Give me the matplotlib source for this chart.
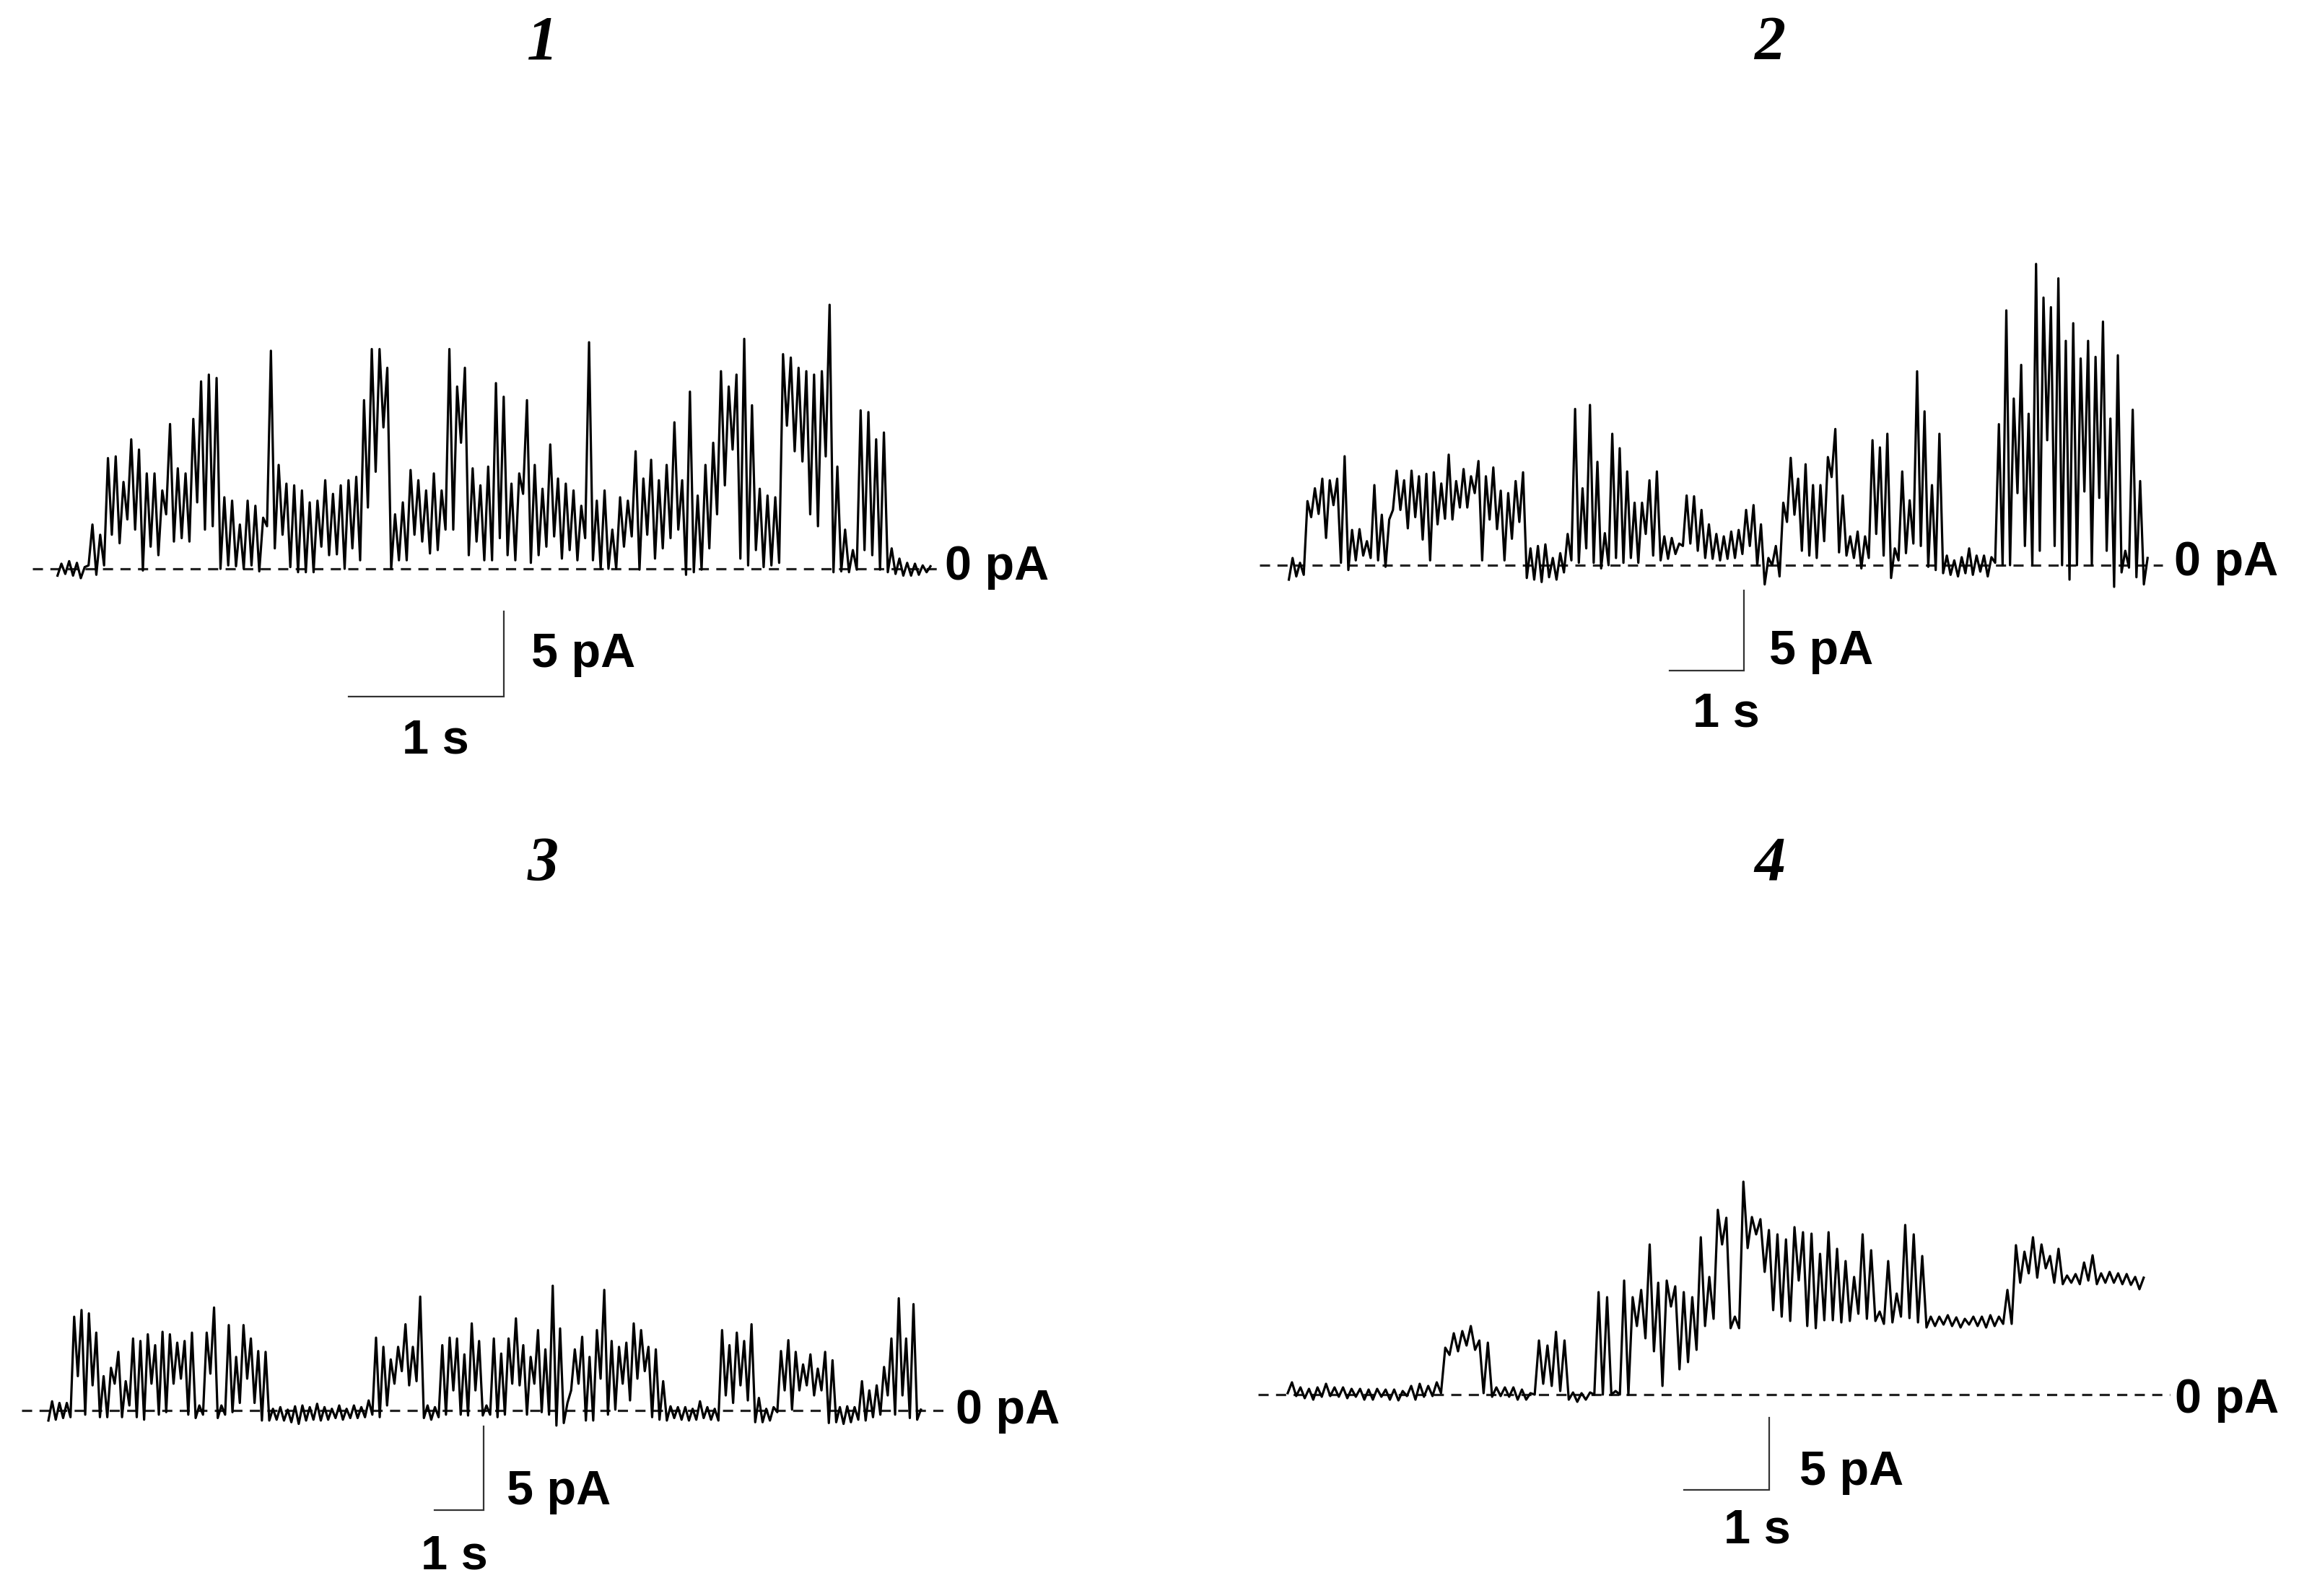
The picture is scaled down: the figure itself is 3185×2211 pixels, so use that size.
import numpy as np
import matplotlib.pyplot as plt

W, H = 3185, 2211

t1_step = 0.05
trace1_hi = [0.3, 0.45, 0.35, 0.1, 2.6, 2.0, 6.5, 6.6, 5.1, 7.6,
             7.0, 5.6, 5.6, 4.6, 8.5, 5.9, 5.6, 8.8, 11.0, 11.4,
             11.2, 4.2, 4.0, 2.6, 4.0, 3.7, 3.0, 12.8, 6.1, 5.0,
             4.9, 4.6, 3.9, 4.0, 5.2, 4.4, 4.9, 5.2, 5.4, 9.9,
             12.9, 12.9, 11.8, 3.2, 3.9, 5.8, 5.2, 4.6, 5.6, 4.6,
             12.9, 10.7, 11.8, 5.9, 4.9, 6.0, 10.9, 10.1, 5.0, 5.6,
             9.9, 6.1, 4.7, 7.3, 5.3, 5.0, 4.6, 3.7, 13.3, 4.0,
             4.6, 2.3, 4.2, 4.0, 6.9, 5.3, 6.4, 5.2, 6.1, 8.6,
             5.2, 10.4, 4.3, 6.1, 7.4, 11.6, 10.7, 11.4, 13.5, 9.6,
             4.7, 4.3, 4.2, 12.6, 12.4, 11.8, 11.6, 11.4, 11.6, 15.5,
             6.0, 2.3, 1.1, 9.3, 9.2, 7.6, 8.0, 1.2, 0.6, 0.35,
             0.3, 0.2, 0.15]
trace1_lo = [-0.4, -0.3, -0.4, -0.55, 0.2, -0.35, 0.2, 2.0, 1.5, 2.9,
             2.3, -0.1, 1.3, 0.8, 3.2, 1.6, 1.8, 1.6, 3.9, 2.3,
             2.5, 0.0, 0.2, 0.15, 0.0, 0.2, -0.15, 2.5, 1.2, 2.0,
             0.1, -0.2, -0.2, -0.2, 1.3, 0.8, 0.85, 0.0, 1.2, 0.5,
             3.6, 5.7, 8.3, 0.0, 0.5, 0.5, 2.0, 1.6, 0.9, 1.1,
             2.3, 2.3, 7.4, 0.8, 1.6, 0.5, 0.5, 1.8, 0.8, 0.5,
             4.4, 0.35, 0.8, 1.3, 1.9, 0.6, 1.1, 0.5, 1.8, 0.5,
             0.0, 0.0, 0.0, 1.3, 1.9, -0.05, 2.0, 0.6, 1.2, 1.8,
             2.3, -0.35, -0.2, -0.05, 1.2, 3.2, 4.9, 7.0, 0.6, 0.2,
             1.1, 0.1, 0.2, 0.35, 8.4, 6.9, 6.3, 3.2, 2.5, 6.6,
             -0.2, -0.15, -0.2, -0.05, 1.1, 0.8, -0.05, -0.2, -0.3, -0.4,
             -0.4, -0.35, -0.2]

t2_step = 0.1
trace2_hi = [0.45, 0.15, 4.0, 4.8, 5.4, 5.3, 5.4, 6.8, 2.2, 2.25,
             1.5, 5.0, 3.15, 2.85, 5.9, 5.3, 5.9, 5.55, 5.7, 5.8,
             5.1, 6.9, 5.25, 6.0, 5.55, 6.5, 5.55, 6.1, 4.65, 4.5,
             5.25, 5.8, 1.05, 1.2, 1.3, 0.45, 0.75, 1.95, 9.75, 4.8,
             10.0, 6.45, 2.0, 8.2, 7.3, 5.85, 3.9, 3.9, 5.3, 5.85,
             1.8, 1.7, 1.35, 4.35, 4.3, 3.45, 2.55, 1.95, 1.8, 2.1,
             2.2, 3.45, 3.75, 2.55, 0.45, 1.2, 3.9, 6.7, 5.4, 6.3,
             5.0, 5.0, 6.75, 8.5, 4.35, 1.8, 2.1, 1.8, 7.8, 7.35,
             8.2, 1.05, 5.85, 4.05, 12.1, 9.6, 5.0, 8.2, 0.6, 0.3,
             0.5, 1.05, 0.6, 0.6, 0.5, 8.8, 15.9, 10.4, 12.5, 9.45,
             18.8, 16.7, 16.1, 17.9, 14.0, 15.1, 12.9, 14.0, 13.0, 15.2,
             9.15, 13.1, 0.9, 9.7, 5.25, 0.45]
trace2_lo = [-0.9, -0.7, -0.6, 3.0, 3.2, 1.7, 3.75, 0.15, -0.3, 0.3,
             0.6, 0.45, 0.3, -0.1, 3.45, 3.45, 2.3, 3.0, 1.6, 0.3,
             2.55, 2.9, 2.85, 3.6, 3.6, 4.5, 0.3, 2.85, 2.25, 0.3,
             1.65, 2.7, -0.8, -0.9, -1.05, -0.75, -0.9, -0.45, 0.3, 0.15,
             1.05, 0.15, -0.2, 0.0, 0.45, 0.15, 0.45, 0.15, 1.95, 0.6,
             0.3, 0.4, 0.7, 1.2, 1.35, 0.9, 0.45, 0.4, 0.3, 0.4,
             0.45, 0.7, 1.2, 0.0, -1.2, 0.0, -0.7, 2.7, 3.15, 0.9,
             0.6, 0.45, 1.5, 5.5, 0.8, 0.6, 0.45, -0.2, 0.45, 1.95,
             0.6, -0.8, 0.3, 0.75, 1.35, 1.2, -0.1, -0.3, -0.5, -0.6,
             -0.7, -0.5, -0.6, -0.4, -0.7, 0.15, 0.0, 0.0, 4.5, 1.2,
             0.0, 0.9, 7.8, 1.2, 0.0, -0.9, 0.0, 4.6, 0.0, 4.2,
             0.9, -1.35, -0.45, -0.15, -0.75, -1.2]

t3_step = 0.15
trace3_hi = [0.55, 0.45, 0.45, 5.6, 6.0, 5.8, 4.65, 2.05, 2.55, 3.5,
             1.75, 4.3, 4.15, 4.55, 3.9, 4.7, 4.55, 4.05, 4.15, 4.65,
             0.3, 4.65, 6.15, 0.3, 5.1, 3.2, 5.1, 4.3, 3.55, 3.5,
             0.1, 0.2, 0.05, 0.25, 0.3, 0.2, 0.4, 0.2, 0.1, 0.3,
             0.1, 0.3, 0.2, 0.6, 4.35, 3.8, 3.05, 3.8, 5.15, 3.8,
             6.8, 0.3, 0.2, 3.9, 4.35, 4.3, 3.35, 5.2, 4.15, 0.3,
             4.3, 3.4, 4.3, 5.5, 3.9, 3.2, 4.8, 3.65, 7.45, 4.9,
             0.45, 3.65, 4.4, 3.2, 4.8, 7.2, 4.15, 3.8, 4.05, 5.2,
             4.8, 3.8, 3.65, 1.75, 0.25, 0.2, 0.2, 0.1, 0.55, 0.2,
             0.1, 4.8, 3.9, 4.65, 4.15, 5.15, 0.75, 0.1, 0.2, 3.55,
             4.2, 3.5, 2.75, 3.35, 2.5, 3.5, 3.0, 0.2, 0.25, 0.2,
             1.75, 1.2, 1.5, 2.6, 4.3, 6.7, 4.3, 6.35, 0.05]
trace3_lo = [-0.6, -0.55, -0.45, -0.4, 2.05, -0.25, 1.5, -0.4, -0.4, 1.6,
             -0.4, 0.3, -0.4, -0.55, 1.6, -0.25, -0.1, 1.6, 1.9, -0.25,
             -0.45, -0.25, 2.2, -0.45, -0.25, -0.1, 0.45, 1.9, 0.45, -0.6,
             -0.6, -0.55, -0.6, -0.7, -0.8, -0.6, -0.55, -0.6, -0.55, -0.45,
             -0.55, -0.45, -0.45, -0.4, -0.25, -0.4, 0.3, 1.6, 2.35, 1.5,
             1.75, -0.45, -0.55, -0.4, -0.25, 1.2, -0.25, -0.3, 1.2, -0.3,
             -0.25, -0.4, -0.25, 1.6, 1.5, -0.25, 1.6, -0.1, -0.25, -0.9,
             -0.75, 1.2, 1.6, -0.6, -0.6, 1.9, -0.25, 0.05, 1.6, 0.6,
             1.9, 2.35, -0.4, -0.55, -0.6, -0.45, -0.55, -0.6, -0.55, -0.45,
             -0.55, -0.6, 0.9, 0.45, 1.5, 0.6, -0.7, -0.7, -0.6, -0.1,
             1.2, 0.05, 1.2, 1.5, 0.9, 1.2, -0.75, -0.7, -0.8, -0.7,
             -0.55, -0.6, -0.4, -0.25, 0.9, -0.25, 0.9, -0.45, -0.55]

t4_step = 0.1
trace4_hi = [0.85, 0.5, 0.4, 0.5, 0.75, 0.5, 0.5, 0.4, 0.4, 0.35,
             0.4, 0.35, 0.35, 0.25, 0.6, 0.75, 0.6, 0.85, 3.25, 4.25,
             4.4, 4.75, 3.75, 3.6, 0.5, 0.5, 0.5, 0.35, 0.1, 3.75,
             3.4, 4.35, 3.75, 0.15, 0.1, 0.15, 7.1, 6.75, 0.25, 7.9,
             6.75, 7.25, 10.4, 7.75, 7.9, 7.5, 7.1, 6.75, 10.9, 8.15,
             12.8, 12.25, 5.4, 14.75, 12.3, 12.15, 11.4, 11.1, 10.75, 11.6,
             11.25, 11.15, 9.75, 11.25, 10.1, 9.25, 8.15, 11.1, 10.0, 5.75,
             9.25, 7.0, 11.75, 11.1, 9.6, 5.4, 5.4, 5.5, 5.35, 5.25,
             5.4, 5.4, 5.5, 5.4, 7.25, 10.35, 9.9, 10.9, 10.4, 9.6,
             10.1, 8.25, 8.35, 9.15, 9.65, 8.4, 8.5, 8.4, 8.35, 8.15,
             8.1]
trace4_lo = [0.1, -0.1, -0.25, -0.35, -0.15, -0.1, -0.15, -0.25, -0.15, -0.35,
             -0.35, -0.15, -0.35, -0.4, -0.1, -0.35, -0.15, -0.1, 0.1, 2.75,
             3.0, 3.4, 3.1, 0.1, -0.15, -0.1, -0.15, -0.35, -0.35, 0.0,
             0.75, 0.6, 0.25, -0.35, -0.5, -0.35, 0.0, 0.0, 0.0, 0.0,
             0.0, 4.75, 3.9, 3.0, 0.6, 6.1, 1.75, 2.25, 3.1, 4.75,
             5.25, 10.4, 4.6, 4.6, 10.15, 11.1, 8.5, 5.85, 5.4, 5.1,
             7.9, 4.75, 4.6, 5.15, 5.15, 5.0, 5.1, 5.6, 5.25, 5.1,
             4.9, 5.0, 5.4, 5.3, 5.0, 4.65, 4.75, 4.85, 4.75, 4.65,
             4.85, 4.75, 4.65, 4.75, 4.9, 4.9, 7.75, 8.4, 8.1, 8.75,
             7.75, 7.65, 7.75, 7.65, 7.9, 7.65, 7.75, 7.75, 7.65, 7.6,
             7.3]

titles = ["1", "2", "3", "4"]

# where each record sits on the page: origin (px), px per second, px per pA
panels = [
    dict(hi=trace1_hi, lo=trace1_lo, step=t1_step, x0=77, yb=788, pps=215, ppa=23.6,
         dash=(-0.15, 5.69), bar=(2.89, -7.5), lab5=(3.065, -5.05), lab1=(2.45, -10.1),
         lab0=(5.73, 0.1), title=(752, 61)),
    dict(hi=trace2_hi, lo=trace2_lo, step=t2_step, x0=1783, yb=783, pps=103, ppa=22.2,
         dash=(-0.37, 11.78), bar=(6.146, -6.58), lab5=(6.49, -5.4), lab1=(5.91, -9.3),
         lab0=(11.93, 0.14), title=(2452, 61)),
    dict(hi=trace3_hi, lo=trace3_lo, step=t3_step, x0=64.5, yb=1954, pps=68, ppa=23.2,
         dash=(-0.51, 18.31), bar=(8.904, -5.95), lab5=(9.375, -4.87), lab1=(8.31, -8.75),
         lab0=(18.52, -0.05), title=(752, 1198)),
    dict(hi=trace4_hi, lo=trace4_lo, step=t4_step, x0=1781, yb=1932, pps=118, ppa=20,
         dash=(-0.32, 10.38), bar=(5.678, -6.6), lab5=(6.03, -5.4), lab1=(5.54, -9.4),
         lab0=(10.44, -0.4), title=(2452, 1198)),
]


def minmax_line(hi, lo, step):
    # interleave bin minima and maxima, as a decimated trace is drawn
    hi = np.asarray(hi, dtype=float)
    lo = np.asarray(lo, dtype=float)
    n = len(hi)
    t = np.empty(2 * n)
    y = np.empty(2 * n)
    t[0::2] = (np.arange(n) + 0.25) * step
    t[1::2] = (np.arange(n) + 0.75) * step
    y[0::2] = lo
    y[1::2] = hi
    return t, y


fig = plt.figure(figsize=(W / 100, H / 100), dpi=100)
sans = dict(family="Liberation Sans", weight="bold", fontsize=48)

for p, title in zip(panels, titles):
    ax = fig.add_axes([0, 0, 1, 1])
    ax.set_xlim(-p["x0"] / p["pps"], (W - p["x0"]) / p["pps"])
    ax.set_ylim((p["yb"] - H) / p["ppa"], p["yb"] / p["ppa"])
    ax.axis("off")

    ax.plot(p["dash"], [0, 0], color="#222222", lw=2.3, ls=(0, (4.4, 3.2)), zorder=1)

    t, y = minmax_line(p["hi"], p["lo"], p["step"])
    ax.plot(t, y, color="black", lw=2.3, zorder=2)

    bx, by = p["bar"]
    ax.plot([bx - 1, bx, bx], [by, by, by + 5], color="#333333", lw=1.6,
            solid_joinstyle="miter")

    ax.text(*p["lab5"], "5 pA", ha="left", va="center", **sans)
    ax.text(*p["lab1"], "1 s", ha="center", va="center", **sans)
    ax.text(*p["lab0"], "0 pA", ha="left", va="center", **sans)

    tx, ty = p["title"]
    fig.text(tx / W, 1 - ty / H, title, ha="center", va="center",
             family="Liberation Serif", style="italic", weight="bold", fontsize=62)

fig.savefig("out.png", dpi=100)
